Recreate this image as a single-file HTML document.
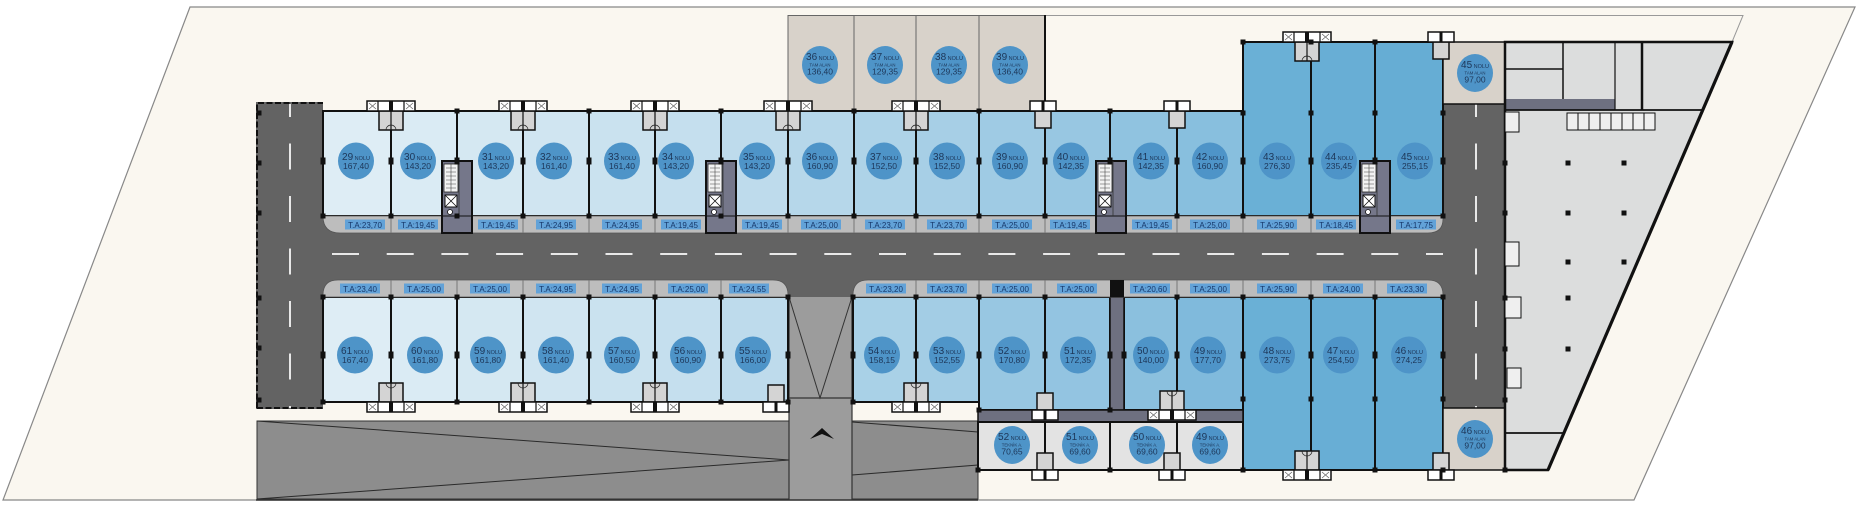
<!DOCTYPE html>
<html><head><meta charset="utf-8">
<style>
html,body{margin:0;padding:0;background:#fff;}
svg{display:block;}
.c ellipse{fill:#4E94C8;}
.c text{font-family:"Liberation Sans Narrow","Liberation Sans",sans-serif;fill:#1D3658;text-anchor:middle;font-size:5.5px;}
.c .b{font-size:10px;}
.c .v{font-size:8.5px;}
.c .s{font-size:4.3px;}
.ta rect{fill:#62A2D8;}
.ta text{font-family:"Liberation Sans Narrow","Liberation Sans",sans-serif;fill:#17386A;text-anchor:middle;font-size:8px;}
</style></head><body>
<svg width="1863" height="521" viewBox="0 0 1863 521" xmlns="http://www.w3.org/2000/svg">
<defs>
 <g id="c4">
  <rect x="-12" y="0" width="24" height="19" fill="#d4d4d4" stroke="#111" stroke-width="1.5"/>
  <line x1="0" y1="0" x2="0" y2="19" stroke="#111" stroke-width="1.2"/>
  <rect x="-24" y="-10" width="48" height="10" fill="#fff" stroke="#111" stroke-width="1.5"/>
  <path d="M-13 -10V0M13 -10V0" stroke="#111" stroke-width="1.2"/>
  <rect x="-2" y="-10" width="4" height="10" fill="#111"/>
  <path d="M-22 -8L-15 -2M-15 -8L-22 -2M15 -8L22 -2M22 -8L15 -2" stroke="#666" stroke-width="0.8"/>
  <path d="M-5 19a5 5 0 0 1 10 0" fill="none" stroke="#222" stroke-width="0.7"/>
 </g>
 <g id="c2">
  <rect x="-8" y="0" width="16" height="17" fill="#d4d4d4" stroke="#111" stroke-width="1.5"/>
  <rect x="-13" y="-10" width="26" height="10" fill="#fff" stroke="#111" stroke-width="1.5"/>
  <rect x="-1.5" y="-10" width="3" height="10" fill="#111"/>
 </g>
 <g id="core">
  <rect x="0" y="0" width="30" height="72" fill="#75778A" stroke="#111" stroke-width="2"/>
  <rect x="2" y="3" width="14" height="28" fill="#f2f2f2" stroke="#222" stroke-width="0.8"/>
  <path d="M4 7h10M4 11h10M4 15h10M4 19h10M4 23h10M4 27h10M9 3v28" stroke="#444" stroke-width="0.6"/>
  <rect x="3" y="34" width="12" height="12" fill="#fff" stroke="#111" stroke-width="1"/>
  <path d="M3 34l12 12M15 34l-12 12" stroke="#111" stroke-width="0.8"/>
  <circle cx="8" cy="51" r="2.5" fill="#fff" stroke="#111" stroke-width="0.8"/>
  <line x1="0" y1="55" x2="30" y2="55" stroke="#111" stroke-width="1"/>
  <line x1="17" y1="0" x2="17" y2="55" stroke="#333" stroke-width="0.8"/>
 </g>
 <rect id="p" x="-2.5" y="-3.5" width="5" height="7" fill="#111"/>
 <rect id="q" x="-2.5" y="-2.5" width="5" height="5" fill="#111"/>
</defs>

<!-- site parallelogram -->
<polygon points="190,7 1855,7 1634,500 3,500" fill="#FAF7F0" stroke="#888" stroke-width="1.2"/>
<path d="M788 15.5H1743L1732 42" fill="none" stroke="#999" stroke-width="1"/>

<!-- roads -->
<rect x="256" y="102" width="67" height="307" fill="#636363"/>
<rect x="256" y="216" width="1249" height="81" fill="#636363"/>
<rect x="1443" y="104" width="62" height="304" fill="#636363"/>
<path d="M257 408V103H323M257 408H323" fill="none" stroke="#111" stroke-width="2" stroke-dasharray="6 2.5"/>
<line x1="332" y1="254" x2="1443" y2="254" stroke="#e8e8e8" stroke-width="2" stroke-dasharray="27 27.7"/>
<line x1="290" y1="104" x2="290" y2="408" stroke="#e8e8e8" stroke-width="2" stroke-dasharray="26 26.5" stroke-dashoffset="13"/>
<line x1="1476" y1="104" x2="1476" y2="408" stroke="#e8e8e8" stroke-width="2" stroke-dasharray="26 26.5" stroke-dashoffset="13"/>

<!-- lower parking & ramp -->
<rect x="257" y="421" width="532" height="78" fill="#8D8D8D" stroke="#333" stroke-width="1"/>
<path d="M257 421L789 460M257 499L789 460" stroke="#2a2a2a" stroke-width="1"/>
<rect x="852" y="421" width="126" height="78" fill="#8D8D8D" stroke="#333" stroke-width="1"/>
<path d="M852 422L978 432M852 475L978 465" stroke="#2a2a2a" stroke-width="1"/>
<rect x="789" y="297" width="63" height="203" fill="#9C9C9C"/>
<path d="M789 297V500M852 297V500M789 398H852" stroke="#333" stroke-width="1.2"/>
<path d="M789 297L820 398L852 297" fill="none" stroke="#333" stroke-width="1"/>
<path d="M810 439L822 428L834 439L822 434Z" fill="#111"/>
<line x1="256" y1="500" x2="978" y2="500" stroke="#333" stroke-width="1.5"/>

<!-- upper TAM ALAN rooms -->
<g fill="#D8D2CA" stroke="#666" stroke-width="1">
 <rect x="788" y="15.5" width="66" height="95.5"/>
 <rect x="854" y="15.5" width="62" height="95.5"/>
 <rect x="916" y="15.5" width="63" height="95.5"/>
 <rect x="979" y="15.5" width="66" height="95.5"/>
</g>
<line x1="1045" y1="15" x2="1045" y2="111" stroke="#111" stroke-width="2"/>

<!-- upper units -->
<g stroke="#111" stroke-width="2">
 <rect x="323" y="111" width="68" height="105" fill="#DEEDF5"/>
 <rect x="391" y="111" width="66" height="105" fill="#DAEBF4"/>
 <rect x="457" y="111" width="66" height="105" fill="#D5E8F2"/>
 <rect x="523" y="111" width="66" height="105" fill="#D0E5F1"/>
 <rect x="589" y="111" width="66" height="105" fill="#CAE2EF"/>
 <rect x="655" y="111" width="66" height="105" fill="#C5DFEE"/>
 <rect x="721" y="111" width="67" height="105" fill="#BEDBEC"/>
 <rect x="788" y="111" width="66" height="105" fill="#B6D7EA"/>
 <rect x="854" y="111" width="62" height="105" fill="#AED3E8"/>
 <rect x="916" y="111" width="63" height="105" fill="#A7CFE6"/>
 <rect x="979" y="111" width="66" height="105" fill="#9FCBE4"/>
 <rect x="1045" y="111" width="65" height="105" fill="#98C7E2"/>
 <rect x="1110" y="111" width="67" height="105" fill="#90C3E0"/>
 <rect x="1177" y="111" width="66" height="105" fill="#88BFDE"/>
 <rect x="1243" y="42" width="68" height="174" fill="#6AB0D6"/>
 <rect x="1311" y="42" width="64" height="174" fill="#68AED5"/>
 <rect x="1375" y="42" width="68" height="174" fill="#66ADD4"/>
</g>

<!-- lower units -->
<g stroke="#111" stroke-width="2">
 <rect x="323" y="297" width="68" height="105" fill="#DEEDF5"/>
 <rect x="391" y="297" width="66" height="105" fill="#DAEBF4"/>
 <rect x="457" y="297" width="66" height="105" fill="#D5E8F2"/>
 <rect x="523" y="297" width="66" height="105" fill="#D0E5F1"/>
 <rect x="589" y="297" width="66" height="105" fill="#CAE2EF"/>
 <rect x="655" y="297" width="66" height="105" fill="#C5DFEE"/>
 <rect x="721" y="297" width="67" height="105" fill="#BEDBEC"/>
 <rect x="853" y="297" width="63" height="105" fill="#A9D1E7"/>
 <rect x="916" y="297" width="63" height="105" fill="#A3CDE5"/>
 <rect x="979" y="297" width="66" height="113" fill="#98C7E2"/>
 <rect x="1045" y="297" width="65" height="113" fill="#93C4E1"/>
 <rect x="1124" y="297" width="53" height="113" fill="#8BC0DE"/>
 <rect x="1177" y="297" width="66" height="113" fill="#80BADC"/>
 <rect x="1243" y="297" width="68" height="173" fill="#6AB0D6"/>
 <rect x="1311" y="297" width="64" height="173" fill="#68AED5"/>
 <rect x="1375" y="297" width="68" height="173" fill="#66ADD4"/>
</g>
<!-- corridors -->
<rect x="1110" y="297" width="14" height="113" fill="#6E7080" stroke="#111" stroke-width="1.5"/>
<rect x="978" y="410" width="265" height="12" fill="#6E7080" stroke="#111" stroke-width="1.5"/>
<!-- technical rooms -->
<g fill="#E3E3E3" stroke="#111" stroke-width="2">
 <rect x="978" y="422" width="67" height="48"/>
 <rect x="1045" y="422" width="65" height="48"/>
 <rect x="1110" y="422" width="67" height="48"/>
 <rect x="1177" y="422" width="66" height="48"/>
</g>

<!-- TAM ALAN right boxes -->
<rect x="1443" y="42" width="62" height="62" fill="#D8D2CA" stroke="#111" stroke-width="1.5"/>
<rect x="1443" y="408" width="62" height="62" fill="#D8D2CA" stroke="#111" stroke-width="1.5"/>

<!-- garage -->
<polygon points="1505,42 1732,42 1548,470 1505,470" fill="#DCDDDD"/>
<rect x="1505" y="99" width="110" height="11" fill="#6E7080"/>
<path d="M1505 69H1563M1563 42V99" stroke="#111" stroke-width="1.5" fill="none"/>
<path d="M1615 42V110" stroke="#111" stroke-width="1.2"/>
<path d="M1642 42V110" stroke="#111" stroke-width="2.5"/>
<path d="M1505 110H1703M1505 433H1563" stroke="#111" stroke-width="1.8" fill="none"/>
<path d="M1505 42H1732L1548 470H1505Z" fill="none" stroke="#111" stroke-width="2.5"/>
<path d="M1732 42L1548 470" stroke="#111" stroke-width="3.2"/>
<g fill="#EFEFEF" stroke="#111" stroke-width="1">
 <rect x="1567" y="113" width="11" height="17"/><rect x="1578" y="113" width="11" height="17"/>
 <rect x="1589" y="113" width="11" height="17"/><rect x="1600" y="113" width="11" height="17"/>
 <rect x="1611" y="113" width="11" height="17"/><rect x="1622" y="113" width="11" height="17"/>
 <rect x="1633" y="113" width="11" height="17"/><rect x="1644" y="113" width="11" height="17"/>
 <rect x="1505" y="112" width="14" height="20"/>
 <rect x="1505" y="242" width="14" height="24"/>
 <rect x="1505" y="297" width="16" height="21"/>
 <rect x="1507" y="368" width="14" height="20"/>
</g>
<g>
 <use href="#q" x="1568" y="163"/><use href="#q" x="1624" y="163"/>
 <use href="#q" x="1568" y="213"/><use href="#q" x="1624" y="213"/>
 <use href="#q" x="1568" y="262"/><use href="#q" x="1624" y="262"/>
 <use href="#q" x="1568" y="298"/><use href="#q" x="1568" y="349"/>
 <use href="#q" x="1505" y="163"/><use href="#q" x="1505" y="213"/>
 <use href="#q" x="1505" y="298"/><use href="#q" x="1505" y="349"/>
 <use href="#q" x="1505" y="400"/>
</g>

<!-- upper T.A. strip -->
<path d="M323 216H1443V219Q1443 233 1428 233H340Q323 233 323 216Z" fill="#BDBDBD" stroke="#555" stroke-width="0.8"/>
<path d="M391 216v17M457 216v17M523 216v17M589 216v17M655 216v17M721 216v17M788 216v17M854 216v17M916 216v17M979 216v17M1045 216v17M1110 216v17M1177 216v17M1243 216v17M1311 216v17M1375 216v17" stroke="#777" stroke-width="1"/>
<!-- lower T.A. strips -->
<path d="M323 297V295Q323 280 338 280H773Q788 280 788 295V297Z" fill="#BDBDBD" stroke="#555" stroke-width="0.8"/>
<path d="M853 297V295Q853 280 868 280H1428Q1443 280 1443 295V297Z" fill="#BDBDBD" stroke="#555" stroke-width="0.8"/>
<path d="M391 280v17M457 280v17M523 280v17M589 280v17M655 280v17M721 280v17M916 280v17M979 280v17M1045 280v17M1177 280v17M1243 280v17M1311 280v17M1375 280v17" stroke="#777" stroke-width="1"/>
<rect x="1110" y="280" width="14" height="17" fill="#111"/>

<!-- cores -->
<use href="#core" x="442" y="161"/>
<use href="#core" x="706" y="161"/>
<use href="#core" x="1096" y="161"/>
<use href="#core" x="1360" y="161"/>

<!-- service clusters -->
<use href="#c4" x="391" y="111"/><use href="#c4" x="523" y="111"/>
<use href="#c4" x="655" y="111"/><use href="#c4" x="788" y="111"/>
<use href="#c4" x="916" y="111"/><use href="#c2" x="1043" y="111"/>
<use href="#c2" x="1177" y="111"/><use href="#c4" x="1307" y="42"/>
<use href="#c2" x="1441" y="42"/>
<use href="#c4" transform="translate(391,402) scale(1,-1)"/>
<use href="#c4" transform="translate(523,402) scale(1,-1)"/>
<use href="#c4" transform="translate(655,402) scale(1,-1)"/>
<use href="#c2" transform="translate(776,402) scale(1,-1)"/>
<use href="#c4" transform="translate(916,402) scale(1,-1)"/>
<use href="#c2" transform="translate(1045,410) scale(1,-1)"/>
<use href="#c4" transform="translate(1172,410) scale(1,-1)"/>
<use href="#c4" transform="translate(1307,470) scale(1,-1)"/>
<use href="#c2" transform="translate(1441,470) scale(1,-1)"/>
<use href="#c2" transform="translate(1045,470) scale(1,-1)"/>
<use href="#c2" transform="translate(1172,470) scale(1,-1)"/>

<!-- wall pins -->
<g>
 <use href="#p" x="323" y="161"/><use href="#p" x="391" y="161"/><use href="#p" x="457" y="161"/><use href="#p" x="523" y="161"/>
 <use href="#p" x="589" y="161"/><use href="#p" x="655" y="161"/><use href="#p" x="721" y="161"/><use href="#p" x="788" y="161"/>
 <use href="#p" x="854" y="161"/><use href="#p" x="916" y="161"/><use href="#p" x="979" y="161"/><use href="#p" x="1045" y="161"/>
 <use href="#p" x="1110" y="161"/><use href="#p" x="1177" y="161"/><use href="#p" x="1243" y="161"/><use href="#p" x="1311" y="161"/>
 <use href="#p" x="1375" y="161"/><use href="#p" x="1443" y="161"/>
 <use href="#q" x="323" y="216"/><use href="#q" x="391" y="216"/><use href="#q" x="457" y="216"/><use href="#q" x="523" y="216"/>
 <use href="#q" x="589" y="216"/><use href="#q" x="655" y="216"/><use href="#q" x="721" y="216"/><use href="#q" x="788" y="216"/>
 <use href="#q" x="854" y="216"/><use href="#q" x="916" y="216"/><use href="#q" x="979" y="216"/><use href="#q" x="1045" y="216"/>
 <use href="#q" x="1177" y="216"/><use href="#q" x="1243" y="216"/><use href="#q" x="1311" y="216"/><use href="#q" x="1443" y="216"/>
 <use href="#q" x="457" y="111"/><use href="#q" x="589" y="111"/><use href="#q" x="721" y="111"/><use href="#q" x="854" y="111"/>
 <use href="#q" x="979" y="111"/><use href="#q" x="1110" y="111"/>
 <use href="#q" x="1243" y="113"/><use href="#q" x="1311" y="113"/><use href="#q" x="1375" y="113"/><use href="#q" x="1443" y="113"/>
 <use href="#q" x="1243" y="42"/><use href="#q" x="1311" y="42"/><use href="#q" x="1375" y="42"/>
 <use href="#p" x="323" y="355"/><use href="#p" x="391" y="355"/><use href="#p" x="457" y="355"/><use href="#p" x="523" y="355"/>
 <use href="#p" x="589" y="355"/><use href="#p" x="655" y="355"/><use href="#p" x="721" y="355"/><use href="#p" x="788" y="355"/>
 <use href="#p" x="853" y="355"/><use href="#p" x="916" y="355"/><use href="#p" x="979" y="355"/><use href="#p" x="1045" y="355"/>
 <use href="#p" x="1110" y="355"/><use href="#p" x="1124" y="355"/><use href="#p" x="1177" y="355"/><use href="#p" x="1243" y="355"/>
 <use href="#p" x="1311" y="355"/><use href="#p" x="1375" y="355"/><use href="#p" x="1443" y="355"/>
 <use href="#q" x="323" y="297"/><use href="#q" x="391" y="297"/><use href="#q" x="457" y="297"/><use href="#q" x="523" y="297"/>
 <use href="#q" x="589" y="297"/><use href="#q" x="655" y="297"/><use href="#q" x="721" y="297"/><use href="#q" x="788" y="297"/>
 <use href="#q" x="853" y="297"/><use href="#q" x="916" y="297"/><use href="#q" x="979" y="297"/><use href="#q" x="1045" y="297"/>
 <use href="#q" x="1177" y="297"/><use href="#q" x="1243" y="297"/><use href="#q" x="1311" y="297"/><use href="#q" x="1375" y="297"/><use href="#q" x="1443" y="297"/>
 <use href="#q" x="323" y="402"/><use href="#q" x="457" y="402"/><use href="#q" x="589" y="402"/><use href="#q" x="721" y="402"/>
 <use href="#q" x="788" y="402"/><use href="#q" x="853" y="402"/><use href="#q" x="979" y="410"/><use href="#q" x="1110" y="410"/>
 <use href="#q" x="1243" y="399"/><use href="#q" x="1311" y="399"/><use href="#q" x="1375" y="399"/><use href="#q" x="1443" y="399"/>
 <use href="#q" x="1243" y="470"/><use href="#q" x="1375" y="470"/><use href="#q" x="1443" y="470"/><use href="#q" x="1505" y="470"/>
 <use href="#q" x="978" y="470"/><use href="#q" x="1110" y="470"/>
 <use href="#q" x="259" y="113"/><use href="#q" x="259" y="163"/><use href="#q" x="259" y="213"/>
 <use href="#q" x="259" y="298"/><use href="#q" x="259" y="348"/><use href="#q" x="259" y="400"/>
</g>

<!-- T.A. labels -->
<g class="ta">
 <rect x="345" y="219.5" width="40" height="10"/><text x="365" y="227.8">T.A:23,70</text>
 <rect x="398" y="219.5" width="40" height="10"/><text x="418" y="227.8">T.A:19,45</text>
 <rect x="478" y="219.5" width="40" height="10"/><text x="498" y="227.8">T.A:19,45</text>
 <rect x="536" y="219.5" width="40" height="10"/><text x="556" y="227.8">T.A:24,95</text>
 <rect x="602" y="219.5" width="40" height="10"/><text x="622" y="227.8">T.A:24,95</text>
 <rect x="661" y="219.5" width="40" height="10"/><text x="681" y="227.8">T.A:19,45</text>
 <rect x="742" y="219.5" width="40" height="10"/><text x="762" y="227.8">T.A:19,45</text>
 <rect x="801" y="219.5" width="40" height="10"/><text x="821" y="227.8">T.A:25,00</text>
 <rect x="865" y="219.5" width="40" height="10"/><text x="885" y="227.8">T.A:23,70</text>
 <rect x="927" y="219.5" width="40" height="10"/><text x="947" y="227.8">T.A:23,70</text>
 <rect x="992" y="219.5" width="40" height="10"/><text x="1012" y="227.8">T.A:25,00</text>
 <rect x="1050" y="219.5" width="40" height="10"/><text x="1070" y="227.8">T.A:19,45</text>
 <rect x="1132" y="219.5" width="40" height="10"/><text x="1152" y="227.8">T.A:19,45</text>
 <rect x="1190" y="219.5" width="40" height="10"/><text x="1210" y="227.8">T.A:25,00</text>
 <rect x="1257" y="219.5" width="40" height="10"/><text x="1277" y="227.8">T.A:25,90</text>
 <rect x="1316" y="219.5" width="40" height="10"/><text x="1336" y="227.8">T.A:18,45</text>
 <rect x="1396" y="219.5" width="40" height="10"/><text x="1416" y="227.8">T.A:17,75</text>

 <rect x="340" y="283.5" width="40" height="10"/><text x="360" y="291.8">T.A:23,40</text>
 <rect x="404" y="283.5" width="40" height="10"/><text x="424" y="291.8">T.A:25,00</text>
 <rect x="470" y="283.5" width="40" height="10"/><text x="490" y="291.8">T.A:25,00</text>
 <rect x="536" y="283.5" width="40" height="10"/><text x="556" y="291.8">T.A:24,95</text>
 <rect x="602" y="283.5" width="40" height="10"/><text x="622" y="291.8">T.A:24,95</text>
 <rect x="668" y="283.5" width="40" height="10"/><text x="688" y="291.8">T.A:25,00</text>
 <rect x="729" y="283.5" width="40" height="10"/><text x="749" y="291.8">T.A:24,55</text>
 <rect x="866" y="283.5" width="40" height="10"/><text x="886" y="291.8">T.A:23,20</text>
 <rect x="927" y="283.5" width="40" height="10"/><text x="947" y="291.8">T.A:23,70</text>
 <rect x="992" y="283.5" width="40" height="10"/><text x="1012" y="291.8">T.A:25,00</text>
 <rect x="1057" y="283.5" width="40" height="10"/><text x="1077" y="291.8">T.A:25,00</text>
 <rect x="1130" y="283.5" width="40" height="10"/><text x="1150" y="291.8">T.A:20,60</text>
 <rect x="1190" y="283.5" width="40" height="10"/><text x="1210" y="291.8">T.A:25,00</text>
 <rect x="1257" y="283.5" width="40" height="10"/><text x="1277" y="291.8">T.A:25,90</text>
 <rect x="1323" y="283.5" width="40" height="10"/><text x="1343" y="291.8">T.A:24,00</text>
 <rect x="1387" y="283.5" width="40" height="10"/><text x="1407" y="291.8">T.A:23,30</text>
</g>

<!-- unit circles -->
<g class="c">
 <ellipse cx="356" cy="161" rx="18" ry="18.5"/><text x="356" y="160"><tspan class="b">29</tspan> NOLU</text><text x="356" y="169" class="v">167,40</text>
 <ellipse cx="418" cy="161" rx="18" ry="18.5"/><text x="418" y="160"><tspan class="b">30</tspan> NOLU</text><text x="418" y="169" class="v">143,20</text>
 <ellipse cx="496" cy="161" rx="18" ry="18.5"/><text x="496" y="160"><tspan class="b">31</tspan> NOLU</text><text x="496" y="169" class="v">143,20</text>
 <ellipse cx="554" cy="161" rx="18" ry="18.5"/><text x="554" y="160"><tspan class="b">32</tspan> NOLU</text><text x="554" y="169" class="v">161,40</text>
 <ellipse cx="622" cy="161" rx="18" ry="18.5"/><text x="622" y="160"><tspan class="b">33</tspan> NOLU</text><text x="622" y="169" class="v">161,40</text>
 <ellipse cx="676" cy="161" rx="18" ry="18.5"/><text x="676" y="160"><tspan class="b">34</tspan> NOLU</text><text x="676" y="169" class="v">143,20</text>
 <ellipse cx="757" cy="161" rx="18" ry="18.5"/><text x="757" y="160"><tspan class="b">35</tspan> NOLU</text><text x="757" y="169" class="v">143,20</text>
 <ellipse cx="820" cy="161" rx="18" ry="18.5"/><text x="820" y="160"><tspan class="b">36</tspan> NOLU</text><text x="820" y="169" class="v">160,90</text>
 <ellipse cx="884" cy="161" rx="18" ry="18.5"/><text x="884" y="160"><tspan class="b">37</tspan> NOLU</text><text x="884" y="169" class="v">152,50</text>
 <ellipse cx="947" cy="161" rx="18" ry="18.5"/><text x="947" y="160"><tspan class="b">38</tspan> NOLU</text><text x="947" y="169" class="v">152,50</text>
 <ellipse cx="1010" cy="161" rx="18" ry="18.5"/><text x="1010" y="160"><tspan class="b">39</tspan> NOLU</text><text x="1010" y="169" class="v">160,90</text>
 <ellipse cx="1071" cy="161" rx="18" ry="18.5"/><text x="1071" y="160"><tspan class="b">40</tspan> NOLU</text><text x="1071" y="169" class="v">142,35</text>
 <ellipse cx="1151" cy="161" rx="18" ry="18.5"/><text x="1151" y="160"><tspan class="b">41</tspan> NOLU</text><text x="1151" y="169" class="v">142,35</text>
 <ellipse cx="1210" cy="161" rx="18" ry="18.5"/><text x="1210" y="160"><tspan class="b">42</tspan> NOLU</text><text x="1210" y="169" class="v">160,90</text>
 <ellipse cx="1277" cy="161" rx="18" ry="18.5"/><text x="1277" y="160"><tspan class="b">43</tspan> NOLU</text><text x="1277" y="169" class="v">276,30</text>
 <ellipse cx="1339" cy="161" rx="18" ry="18.5"/><text x="1339" y="160"><tspan class="b">44</tspan> NOLU</text><text x="1339" y="169" class="v">235,45</text>
 <ellipse cx="1415" cy="161" rx="18" ry="18.5"/><text x="1415" y="160"><tspan class="b">45</tspan> NOLU</text><text x="1415" y="169" class="v">255,15</text>

 <ellipse cx="355" cy="355" rx="18" ry="18.5"/><text x="355" y="354"><tspan class="b">61</tspan> NOLU</text><text x="355" y="363" class="v">167,40</text>
 <ellipse cx="425" cy="355" rx="18" ry="18.5"/><text x="425" y="354"><tspan class="b">60</tspan> NOLU</text><text x="425" y="363" class="v">161,80</text>
 <ellipse cx="488" cy="355" rx="18" ry="18.5"/><text x="488" y="354"><tspan class="b">59</tspan> NOLU</text><text x="488" y="363" class="v">161,80</text>
 <ellipse cx="556" cy="355" rx="18" ry="18.5"/><text x="556" y="354"><tspan class="b">58</tspan> NOLU</text><text x="556" y="363" class="v">161,40</text>
 <ellipse cx="622" cy="355" rx="18" ry="18.5"/><text x="622" y="354"><tspan class="b">57</tspan> NOLU</text><text x="622" y="363" class="v">160,50</text>
 <ellipse cx="688" cy="355" rx="18" ry="18.5"/><text x="688" y="354"><tspan class="b">56</tspan> NOLU</text><text x="688" y="363" class="v">160,90</text>
 <ellipse cx="753" cy="355" rx="18" ry="18.5"/><text x="753" y="354"><tspan class="b">55</tspan> NOLU</text><text x="753" y="363" class="v">166,00</text>
 <ellipse cx="882" cy="355" rx="18" ry="18.5"/><text x="882" y="354"><tspan class="b">54</tspan> NOLU</text><text x="882" y="363" class="v">158,15</text>
 <ellipse cx="947" cy="355" rx="18" ry="18.5"/><text x="947" y="354"><tspan class="b">53</tspan> NOLU</text><text x="947" y="363" class="v">152,55</text>
 <ellipse cx="1012" cy="355" rx="18" ry="18.5"/><text x="1012" y="354"><tspan class="b">52</tspan> NOLU</text><text x="1012" y="363" class="v">170,80</text>
 <ellipse cx="1078" cy="355" rx="18" ry="18.5"/><text x="1078" y="354"><tspan class="b">51</tspan> NOLU</text><text x="1078" y="363" class="v">172,35</text>
 <ellipse cx="1151" cy="355" rx="18" ry="18.5"/><text x="1151" y="354"><tspan class="b">50</tspan> NOLU</text><text x="1151" y="363" class="v">140,00</text>
 <ellipse cx="1208" cy="355" rx="18" ry="18.5"/><text x="1208" y="354"><tspan class="b">49</tspan> NOLU</text><text x="1208" y="363" class="v">177,70</text>
 <ellipse cx="1277" cy="355" rx="18" ry="18.5"/><text x="1277" y="354"><tspan class="b">48</tspan> NOLU</text><text x="1277" y="363" class="v">273,75</text>
 <ellipse cx="1341" cy="355" rx="18" ry="18.5"/><text x="1341" y="354"><tspan class="b">47</tspan> NOLU</text><text x="1341" y="363" class="v">254,50</text>
 <ellipse cx="1409" cy="355" rx="18" ry="18.5"/><text x="1409" y="354"><tspan class="b">46</tspan> NOLU</text><text x="1409" y="363" class="v">274,25</text>

 <!-- TAM ALAN -->
 <ellipse cx="820" cy="65" rx="18" ry="19"/><text x="820" y="60"><tspan class="b">36</tspan> NOLU</text><text x="820" y="66.5" class="s">TAM ALAN</text><text x="820" y="74.5" class="v">136,40</text>
 <ellipse cx="885" cy="65" rx="18" ry="19"/><text x="885" y="60"><tspan class="b">37</tspan> NOLU</text><text x="885" y="66.5" class="s">TAM ALAN</text><text x="885" y="74.5" class="v">129,35</text>
 <ellipse cx="949" cy="65" rx="18" ry="19"/><text x="949" y="60"><tspan class="b">38</tspan> NOLU</text><text x="949" y="66.5" class="s">TAM ALAN</text><text x="949" y="74.5" class="v">129,35</text>
 <ellipse cx="1010" cy="65" rx="18" ry="19"/><text x="1010" y="60"><tspan class="b">39</tspan> NOLU</text><text x="1010" y="66.5" class="s">TAM ALAN</text><text x="1010" y="74.5" class="v">136,40</text>
 <ellipse cx="1475" cy="73" rx="18" ry="19"/><text x="1475" y="68"><tspan class="b">45</tspan> NOLU</text><text x="1475" y="74.5" class="s">TAM ALAN</text><text x="1475" y="82.5" class="v">97,00</text>
 <ellipse cx="1475" cy="439" rx="18" ry="19"/><text x="1475" y="434"><tspan class="b">46</tspan> NOLU</text><text x="1475" y="440.5" class="s">TAM ALAN</text><text x="1475" y="448.5" class="v">97,00</text>

 <!-- TEKNIK -->
 <ellipse cx="1012" cy="445" rx="18" ry="19"/><text x="1012" y="440"><tspan class="b">52</tspan> NOLU</text><text x="1012" y="446.5" class="s">TEKNİK A.</text><text x="1012" y="454.5" class="v">70,65</text>
 <ellipse cx="1080" cy="445" rx="18" ry="19"/><text x="1080" y="440"><tspan class="b">51</tspan> NOLU</text><text x="1080" y="446.5" class="s">TEKNİK A.</text><text x="1080" y="454.5" class="v">69,60</text>
 <ellipse cx="1147" cy="445" rx="18" ry="19"/><text x="1147" y="440"><tspan class="b">50</tspan> NOLU</text><text x="1147" y="446.5" class="s">TEKNİK A.</text><text x="1147" y="454.5" class="v">69,60</text>
 <ellipse cx="1210" cy="445" rx="18" ry="19"/><text x="1210" y="440"><tspan class="b">49</tspan> NOLU</text><text x="1210" y="446.5" class="s">TEKNİK A.</text><text x="1210" y="454.5" class="v">69,60</text>
</g>
</svg>
</body></html>
